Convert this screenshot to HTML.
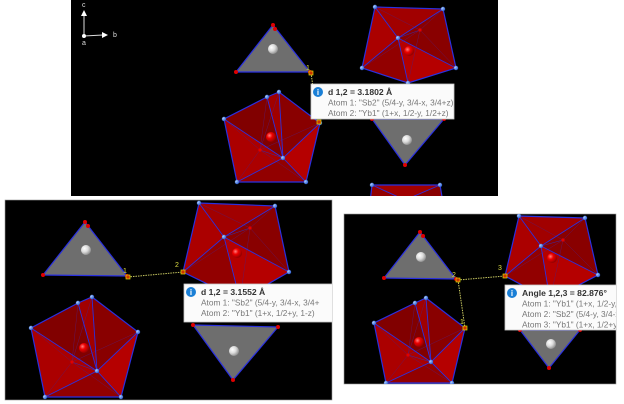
<!DOCTYPE html>
<html><head><meta charset="utf-8">
<style>
html,body{margin:0;padding:0;background:#fff;width:624px;height:404px;overflow:hidden}
svg{display:block}
text{font-family:"Liberation Sans",sans-serif}
</style></head>
<body>
<svg id="s" width="624" height="404" viewBox="0 0 624 404" xmlns="http://www.w3.org/2000/svg">
<defs>
<radialGradient id="rb" cx="0.35" cy="0.35" r="0.7"><stop offset="0" stop-color="#ff8080"/><stop offset="0.4" stop-color="#ee0000"/><stop offset="1" stop-color="#8a0000"/></radialGradient>
<radialGradient id="wb" cx="0.35" cy="0.35" r="0.7"><stop offset="0" stop-color="#ffffff"/><stop offset="0.5" stop-color="#dcdcdc"/><stop offset="1" stop-color="#8a8a8a"/></radialGradient>
<radialGradient id="bd" cx="0.35" cy="0.35" r="0.7"><stop offset="0" stop-color="#aaccff"/><stop offset="1" stop-color="#2255cc"/></radialGradient>
<clipPath id="c1"><rect x="71" y="0" width="427" height="196"/></clipPath>
<clipPath id="c2"><rect x="5" y="200" width="327" height="200"/></clipPath>
<clipPath id="c3"><rect x="344" y="214" width="272" height="170"/></clipPath>
</defs>
<rect x="71" y="0" width="427" height="196" fill="#000"/>
<rect x="5" y="200" width="327" height="200" fill="#000" stroke="#999" stroke-width="0.6"/>
<rect x="344" y="214" width="272" height="170" fill="#000" stroke="#999" stroke-width="0.6"/>
<g id="p1" clip-path="url(#c1)"></g>
<g id="p2" clip-path="url(#c2)"></g>
<g id="p3" clip-path="url(#c3)"></g>
</svg>
<script>
const NS='http://www.w3.org/2000/svg';
function el(g,t,a){const e=document.createElementNS(NS,t);for(const k in a)e.setAttribute(k,a[k]);g.appendChild(e);return e;}
function pts(p){return p.map(q=>q.join(',')).join(' ');}
function poly(gid,out,inner,ball,name){
  const g=el(document.getElementById(gid),'g',{});
  
  
  el(g,'polygon',{points:pts(out),fill:'#7c0000'});
  const fills=['#a80000','#8c0000','#c00000','#960000','#b40000','#820000'];
  const c=inner[0];
  for(let i=0;i<out.length;i++){const a=out[i],b=out[(i+1)%out.length];
    el(g,'polygon',{points:pts([a,b,c]),fill:fills[i%fills.length],'fill-opacity':0.85});}
  if(inner[1]){el(g,'line',{x1:inner[1][0],y1:inner[1][1],x2:c[0],y2:c[1],stroke:'#3a2aa0','stroke-width':0.6});
    out.forEach(p=>el(g,'line',{x1:inner[1][0],y1:inner[1][1],x2:p[0],y2:p[1],stroke:'#5a1a70','stroke-width':0.4}));}
  el(g,'circle',{cx:ball[0],cy:ball[1],r:5,fill:'url(#rb)'});
  out.forEach(p=>el(g,'line',{x1:c[0],y1:c[1],x2:p[0],y2:p[1],stroke:'#2a30e0','stroke-width':0.9}));
  el(g,'polygon',{points:pts(out),fill:'none',stroke:'#2a30e0','stroke-width':1.2});
  out.concat([c]).forEach(p=>el(g,'circle',{cx:p[0],cy:p[1],r:2.2,fill:'url(#bd)'}));
  if(inner[1])el(g,'circle',{cx:inner[1][0],cy:inner[1][1],r:1.6,fill:'#e00000'});
}
function tri(gid,v,ball,name){
  const g=el(document.getElementById(gid),'g',{});
  
  
  el(g,'polygon',{points:pts(v),fill:'#6e6e6e',stroke:'#2a30e0','stroke-width':1.2});
  el(g,'circle',{cx:ball[0],cy:ball[1],r:5,fill:'url(#wb)'});
  v.forEach(p=>el(g,'circle',{cx:p[0],cy:p[1],r:2,fill:'#e00000'}));
}
function dline(gid,a,b,name){
  const l=el(document.getElementById(gid),'line',{x1:a[0],y1:a[1],x2:b[0],y2:b[1],stroke:'#c8c860','stroke-width':1,'stroke-dasharray':'1.5,1'});
  
  
}
function mk(gid,p,lab,lp,name){
  const g=document.getElementById(gid);
  const r=el(g,'rect',{x:p[0]-2,y:p[1]-2,width:4,height:4,fill:'#cc3300',stroke:'#dddd00','stroke-width':0.7});
  
  
  if(lab){const t=el(g,'text',{x:lp[0],y:lp[1],'font-size':7,fill:'#dddd44'});t.textContent=lab;
    
    }
}
function tip(gid,x,y,w,h,lines,name){
  const g=el(document.getElementById(gid),'g',{});
  
  
  el(g,'rect',{x:x,y:y,width:w,height:h,fill:'#fbfbfb',stroke:'#c8c8c8','stroke-width':0.8});
  el(g,'circle',{cx:x+7,cy:y+8,r:5,fill:'#1a7fd6'});
  const i=el(g,'text',{x:x+7,y:y+11,'font-size':8,'font-weight':'bold',fill:'#fff','text-anchor':'middle'});i.textContent='i';
  lines.forEach((s,k)=>{const t=el(g,'text',{x:x+17,y:y+11+k*10.5,'font-size':k?8.3:8.6,'font-weight':k?'normal':'bold',fill:k?'#777':'#333'});t.textContent=s;});
}
// Panel 1
(function(){
  const g=document.getElementById('p1');
  const ax=el(g,'g',{});
  
  
  el(ax,'line',{x1:84,y1:36,x2:84,y2:15,stroke:'#ddd','stroke-width':1});
  el(ax,'polygon',{points:'81,16 87,16 84,10',fill:'#fff'});
  el(ax,'line',{x1:84,y1:36,x2:103,y2:35,stroke:'#ddd','stroke-width':1});
  el(ax,'polygon',{points:'102,32 102,38 108,35',fill:'#fff'});
  el(ax,'circle',{cx:84,cy:36,r:2,fill:'#fff'});
  [['c',82,7],['b',113,37],['a',82,45]].forEach(a=>{const t=el(ax,'text',{x:a[1],y:a[2],'font-size':7,fill:'#ddd'});t.textContent=a[0];});
  tri('p1',[[273,25],[236,72],[310,72]],[273,49],'top-tetrahedron');
  el(g,'circle',{cx:275,cy:29,r:2,fill:'#e00000'});
  poly('p1',[[375,7],[443,9],[456,68],[408,83],[362,68]],[[398,38],[420,30]],[409,51],'top-right-polyhedron');
  poly('p1',[[267,97],[279,92],[320,123],[306,182],[237,182],[224,119]],[[283,158],[260,150]],[271,137],'lower-polyhedron');
  tri('p1',[[372,119],[444,119],[405,165]],[407,140],'inverted-tetrahedron');
  poly('p1',[[372,185],[440,185],[446,220],[368,220]],[[405,200]],[405,210],'bottom-partial-polyhedron');
  dline('p1',[311,73],[318,121],'distance-line');
  mk('p1',[311,73],'1',[306,70],'atom-marker-1');
  mk('p1',[319,122],'',null,'atom-marker-2');
  tip('p1',311,84,143,35,['d 1,2 = 3.1802 Å','Atom 1: "Sb2" (5/4-y, 3/4-x, 3/4+z)','Atom 2: "Yb1" (1+x, 1/2-y, 1/2+z)'],'distance-tooltip-1');
})();
// Panel 2
(function(){
  tri('p2',[[85,222],[43,275],[127,276]],[86,250],'tetrahedron');
  el(document.getElementById('p2'),'circle',{cx:88,cy:226,r:2,fill:'#e00000'});
  poly('p2',[[199,203],[275,206],[289,272],[240,300],[183,272]],[[224,237],[250,228]],[237,253],'upper-polyhedron');
  poly('p2',[[78,303],[92,297],[138,332],[121,397],[45,397],[31,328]],[[97,371],[72,362]],[84,348],'lower-polyhedron');
  tri('p2',[[193,325],[278,327],[233,380]],[234,351],'inverted-tetrahedron');
  dline('p2',[128,277],[183,272],'distance-line');
  mk('p2',[128,277],'1',[123,273],'atom-marker-1');
  mk('p2',[183,272],'2',[175,267],'atom-marker-2');
  tip('p2',184,284,150,38,['d 1,2 = 3.1552 Å','Atom 1: "Sb2" (5/4-y, 3/4-x, 3/4+','Atom 2: "Yb1" (1+x, 1/2+y, 1-z)'],'distance-tooltip-2');
})();
// Panel 3
(function(){
  tri('p3',[[420,232],[384,278],[456,279]],[421,257],'tetrahedron');
  el(document.getElementById('p3'),'circle',{cx:423,cy:236,r:2,fill:'#e00000'});
  poly('p3',[[519,216],[585,218],[598,275],[550,300],[505,276]],[[541,246],[563,240]],[552,258],'upper-polyhedron');
  poly('p3',[[415,303],[426,298],[465,328],[452,383],[386,383],[374,323]],[[431,362],[408,355]],[419,342],'lower-polyhedron');
  tri('p3',[[520,330],[580,330],[549,368]],[551,344],'inverted-tetrahedron');
  dline('p3',[458,280],[505,276],'angle-line-a');
  dline('p3',[458,280],[465,328],'angle-line-b');
  mk('p3',[458,280],'2',[452,277],'atom-marker-2');
  mk('p3',[505,276],'3',[498,270],'atom-marker-3');
  mk('p3',[465,328],'1',[460,324],'atom-marker-1');
  tip('p3',505,285,116,45,['Angle 1,2,3 = 82.876°','Atom 1: "Yb1" (1+x, 1/2-y, 1','Atom 2: "Sb2" (5/4-y, 3/4-x,','Atom 3: "Yb1" (1+x, 1/2+y, 1'],'angle-tooltip');
})();
</script>
</body></html>
